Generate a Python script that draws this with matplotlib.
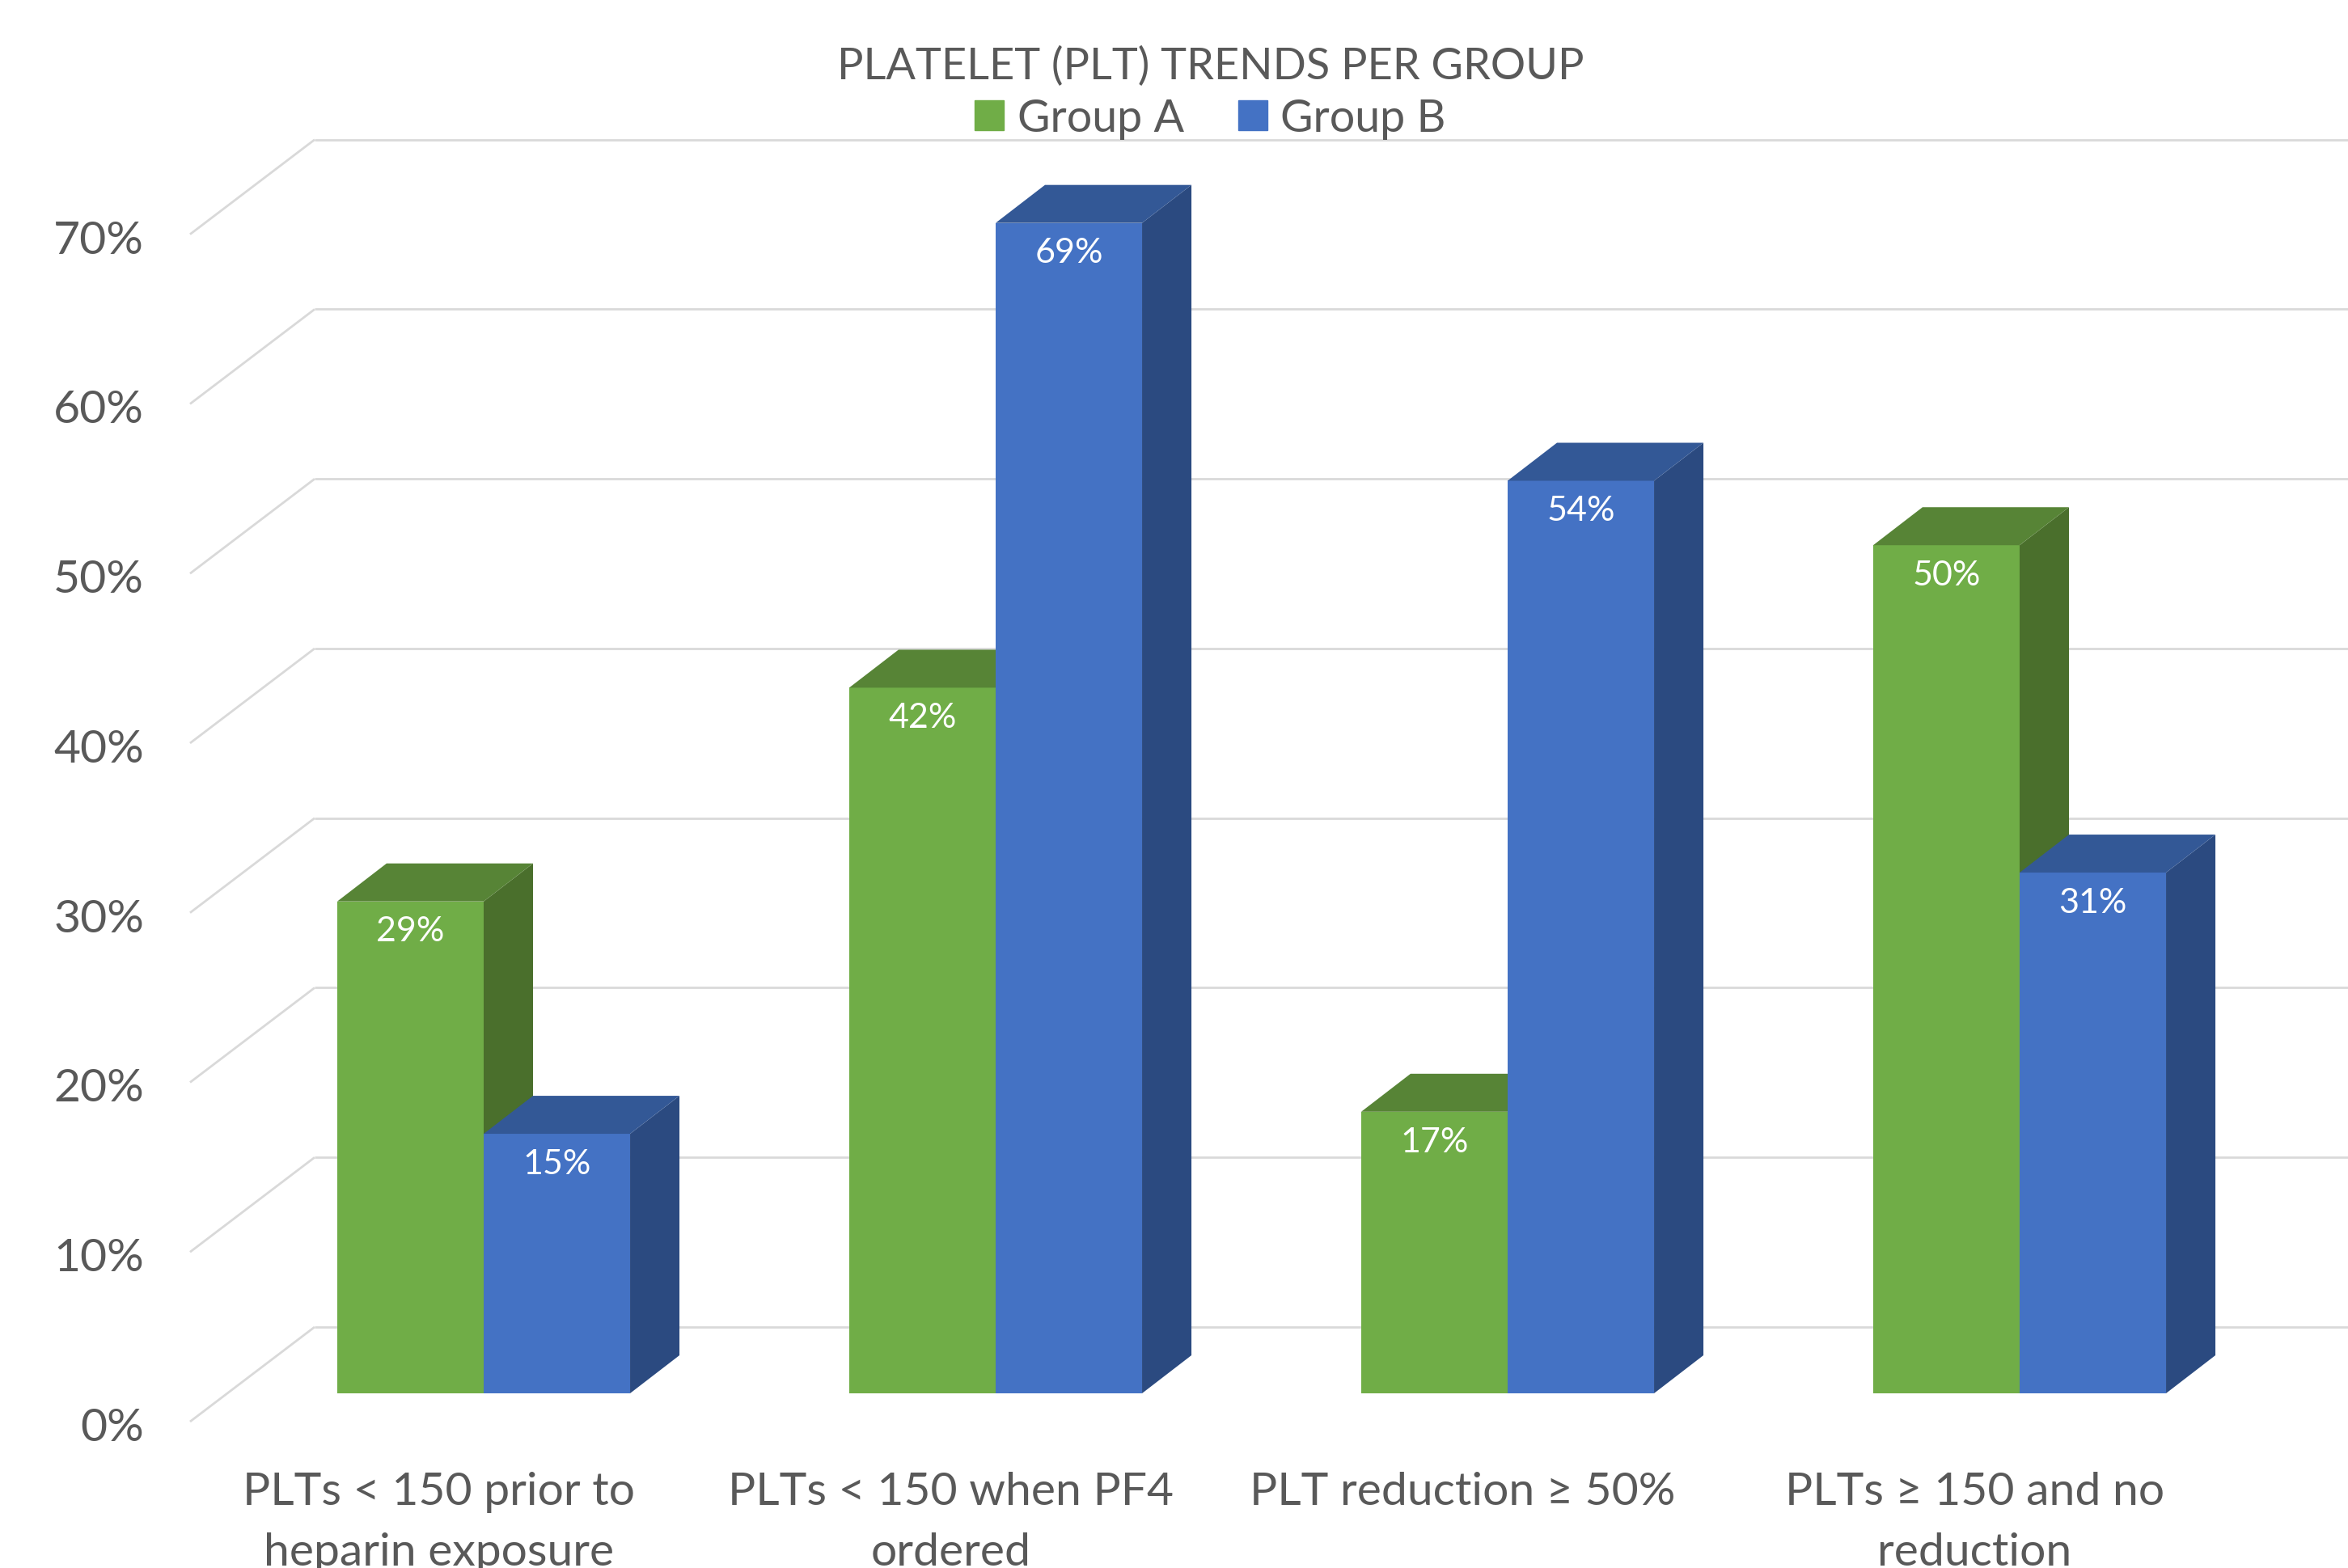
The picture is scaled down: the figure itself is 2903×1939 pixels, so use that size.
import matplotlib.pyplot as plt
from matplotlib.patches import Polygon, Patch

categories = [
    "PLTs < 150 prior to\nheparin exposure",
    "PLTs < 150 when PF4\nordered",
    "PLT reduction \u2265 50%",
    "PLTs \u2265 150 and no\nreduction",
]
group_a = [29.0, 41.6, 16.6, 50.0]
group_b = [15.3, 69.0, 53.8, 30.7]
series_names = ["Group A", "Group B"]
y_ticks = [0, 10, 20, 30, 40, 50, 60, 70]

# colours: front, side, top
GREEN = ("#70AD47", "#4A6F2C", "#578436")
BLUE = ("#4472C4", "#2B4A80", "#335896")
TEXT = "#595959"
GRID = "#D9D9D9"

FONT = ["Lato", "DejaVu Sans"]
plt.rcParams["font.family"] = FONT

# 3d look: bar depth and the floor/wall planes, in data units
BAR_W = 0.286
DX, DY = 0.0964, 2.24          # bar depth
FX, FY = -0.0727, -1.669       # front plane offset
BX, BY = 0.1706, 3.909         # back wall offset
WALL_X = -0.5735               # left wall front edge

fig = plt.figure(figsize=(29.03, 19.40), dpi=100)
ax = fig.add_axes([0, 0, 1, 1])
ax.set_xlim(-0.9447, 3.6414)
ax.set_ylim(-10.298, 82.19)
ax.axis("off")

# back wall gridlines and left wall diagonals
for t in y_ticks:
    ax.plot([WALL_X, WALL_X + (BX - FX)], [t + FY, t + BY],
            color=GRID, lw=2, solid_capstyle="butt", zorder=1)
    ax.plot([WALL_X + (BX - FX), 3.7], [t + BY, t + BY],
            color=GRID, lw=2, solid_capstyle="butt", zorder=1)
    ax.text(WALL_X - 0.09, t + FY - 0.35, f"{t}%", ha="right", va="center",
            fontsize=41, color=TEXT)


def draw_bar(x0, v, cols):
    x1 = x0 + BAR_W
    ax.bar(x0, v, width=BAR_W, align="edge", color=cols[0], lw=0, zorder=3)
    side = Polygon([(x1, 0), (x1 + DX, DY), (x1 + DX, v + DY), (x1, v)],
                   closed=True, color=cols[1], lw=0, zorder=3)
    top = Polygon([(x0, v), (x1, v), (x1 + DX, v + DY), (x0 + DX, v + DY)],
                  closed=True, color=cols[2], lw=0, zorder=3)
    ax.add_patch(side)
    ax.add_patch(top)
    ax.text(x0 + BAR_W / 2, v - 1.75, f"{v:.0f}%", ha="center", va="center",
            fontsize=31, color="white", zorder=4)


for i in range(len(categories)):
    draw_bar(i - BAR_W, group_a[i], GREEN)
    draw_bar(i, group_b[i], BLUE)
    ax.text(i - 0.088, -4.6, categories[i], ha="center", va="top",
            fontsize=41, color=TEXT, linespacing=1.57)

fig.text(0.5155, 0.958, "PLATELET (PLT) TRENDS PER GROUP", ha="center",
         va="center", fontsize=39, color=TEXT)

handles = [Patch(color=GREEN[0]), Patch(color=BLUE[0])]
fig.legend(handles, series_names, loc="center", bbox_to_anchor=(0.5155, 0.924),
           ncol=2, frameon=False, fontsize=40, labelcolor=TEXT,
           handlelength=0.65, handleheight=0.65, handletextpad=0.3,
           columnspacing=1.2)

fig.savefig("out.png", dpi=100)
